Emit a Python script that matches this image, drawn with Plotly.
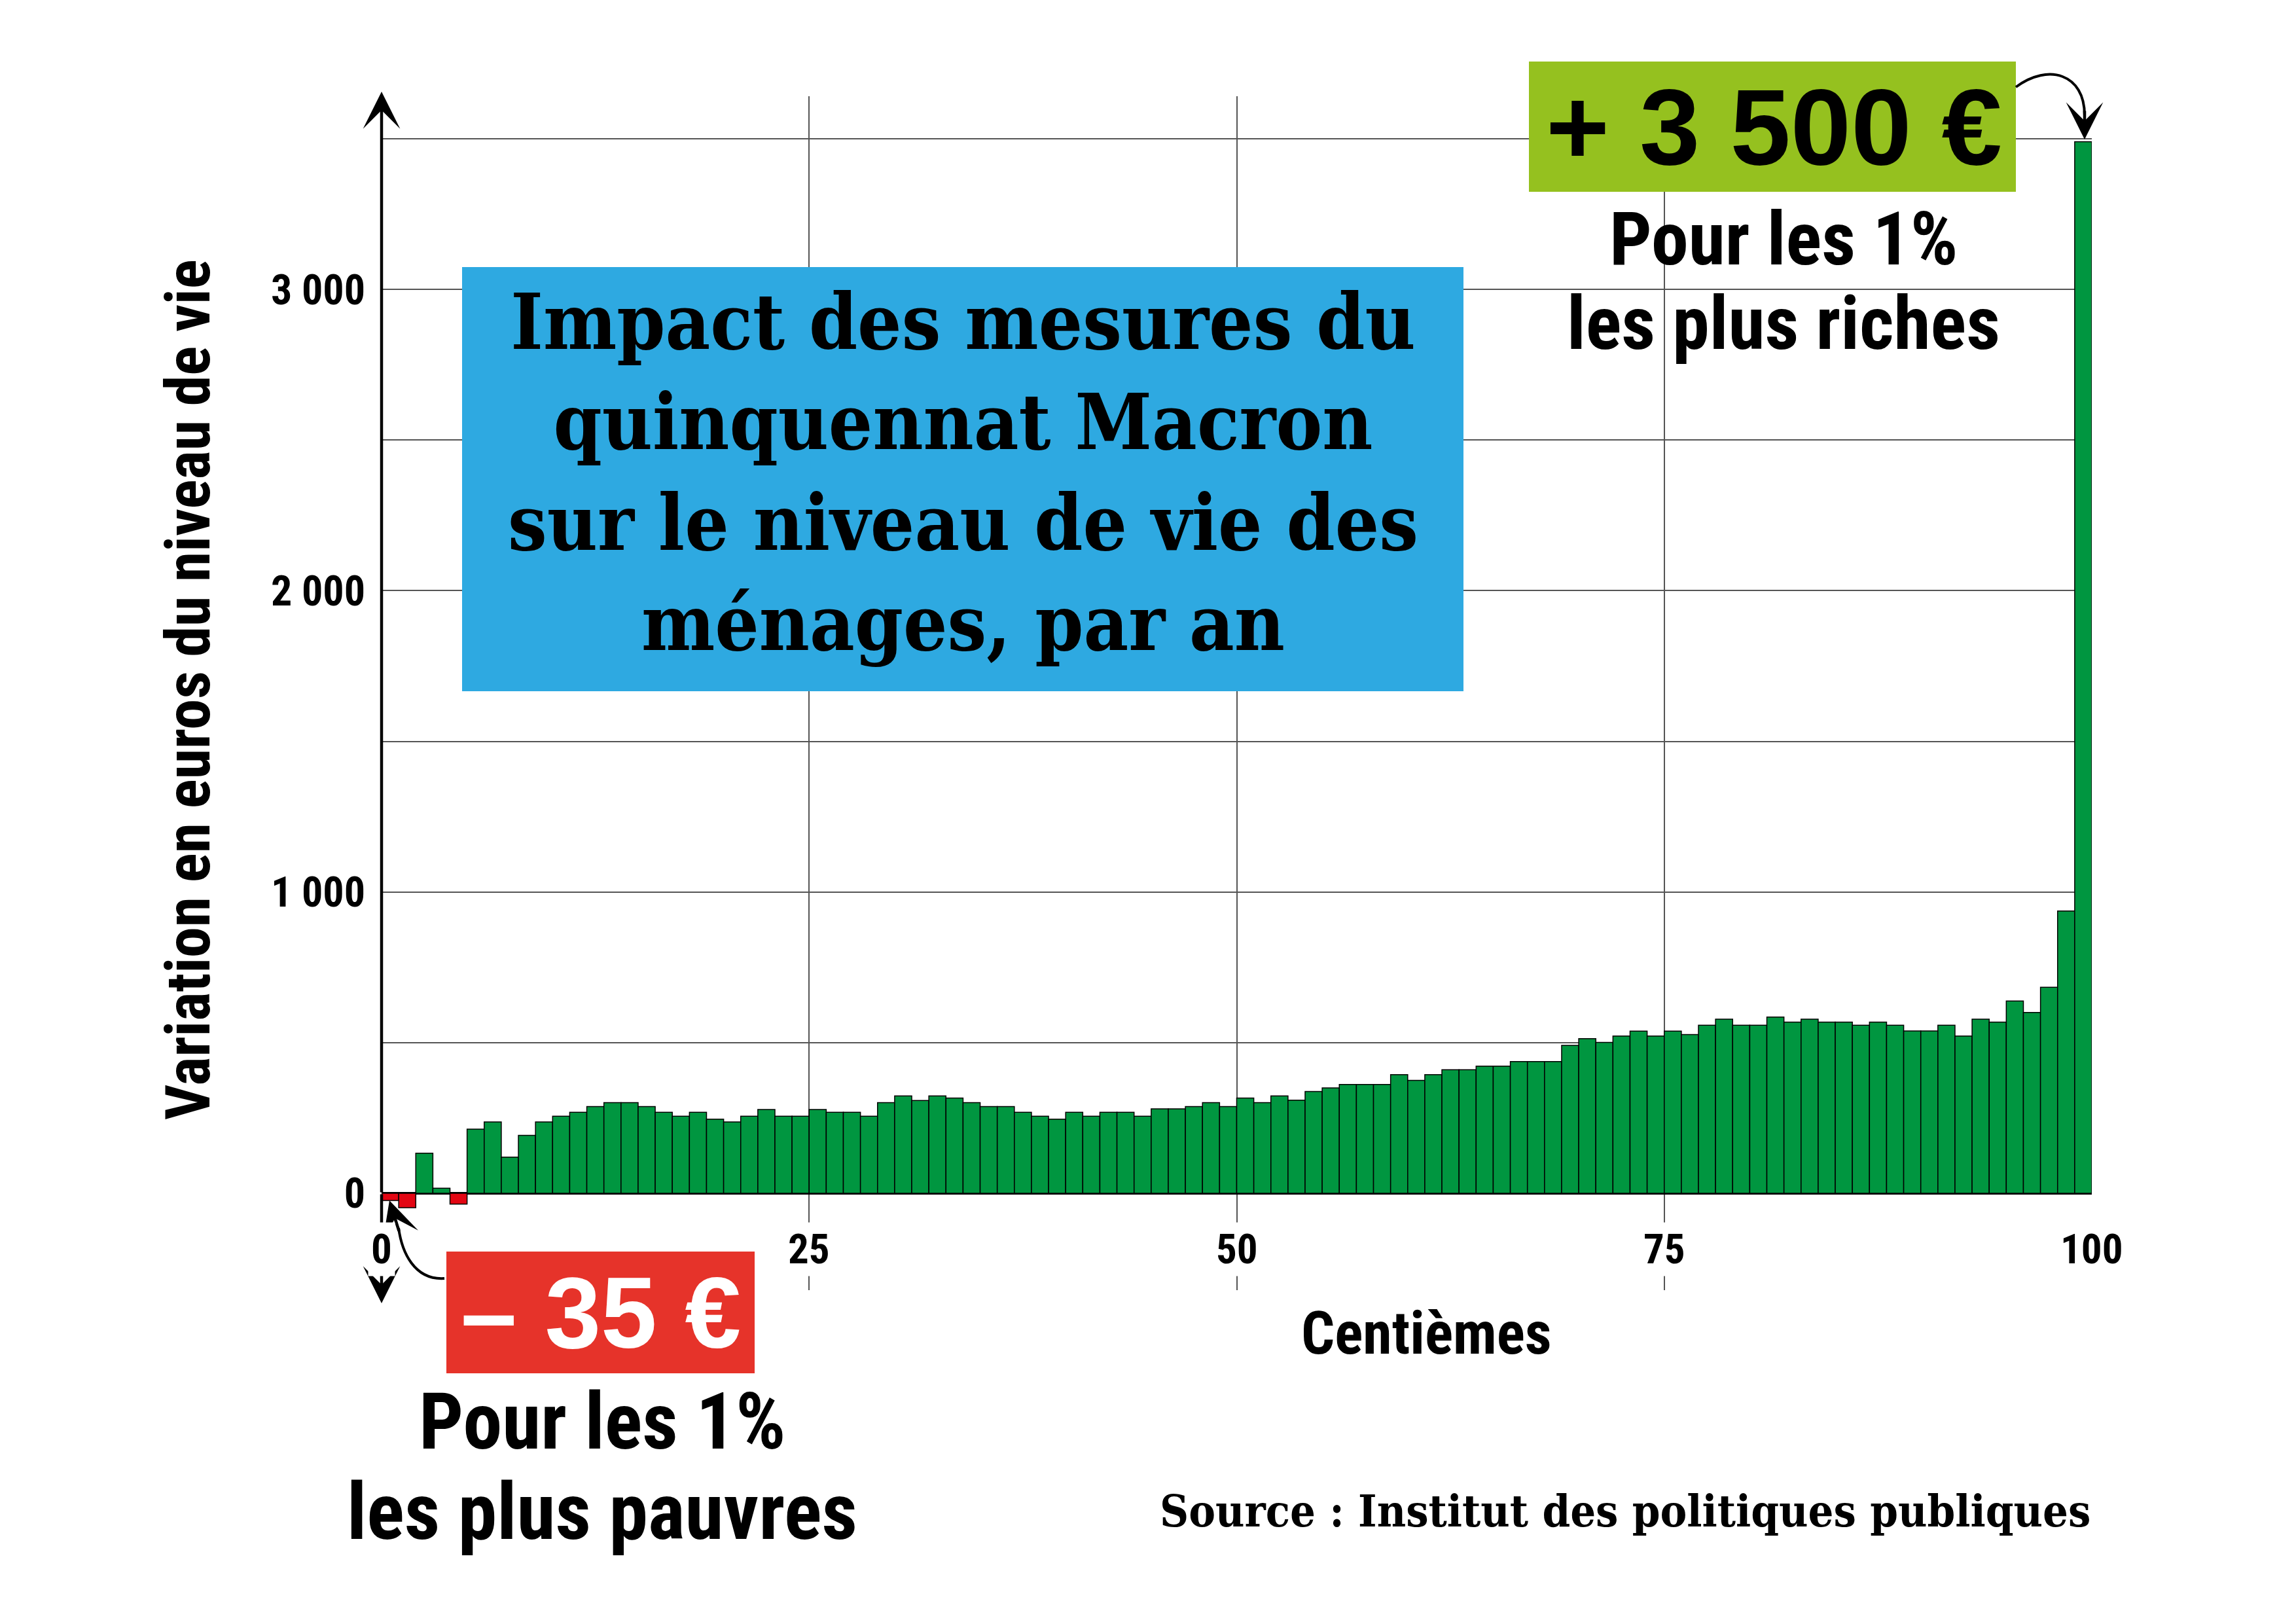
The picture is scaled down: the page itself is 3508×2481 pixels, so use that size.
import plotly.graph_objects as go

# centiles de niveau de vie (1 = les plus pauvres, 100 = les plus riches)
centiles = list(range(1, 101))
variation = [
    -24, -48, 133, 17, -36, 213, 237, 120, 192, 237,
    256, 269, 288, 301, 301, 288, 269, 256, 269, 246,
    237, 256, 278, 256, 256, 278, 269, 269, 256, 301,
    323, 308, 323, 316, 301, 288, 288, 269, 256, 246,
    269, 256, 269, 269, 256, 280, 280, 288, 301, 288,
    316, 301, 323, 309, 338, 350, 361, 361, 361, 394,
    375, 394, 410, 410, 422, 422, 437, 437, 437, 491,
    513, 501, 522, 538, 522, 538, 527, 558, 578, 558,
    558, 585, 568, 578, 568, 568, 558, 568, 558, 539,
    539, 558, 522, 578, 568, 638, 600, 684, 937, 3490,
]

y_ticks = [0, 500, 1000, 1500, 2000, 2500, 3000, 3500]
y_labels = ["0", "", "1 000", "", "2 000", "", "3 000", ""]
x_ticks = [0, 25, 50, 75, 100]
x_labels = ["0", "25", "50", "75", "100"]

title_lines = "Impact des mesures du<br>quinquennat Macron<br>sur le niveau de vie des<br>ménages, par an"
top_value = "+ 3 500 €"
bottom_value = "– 35 €"
top_caption = ["Pour les 1%", "les plus riches"]
bottom_caption = ["Pour les 1%", "les plus pauvres"]

GREEN = "#009640"
RED = "#e30613"
NARROW = "Roboto Condensed, DejaVu Sans Condensed, sans-serif"
HEAVY = "Liberation Sans, Arial, sans-serif"
SLAB = "DejaVu Serif Condensed, DejaVu Serif, serif"

W, H = 3508, 2481
L, R, T, B = 575, 3188, 139, 1963   # plot area in pixels
Y0_PX, PX_PER_UNIT = 1815, 0.4603


def px(x):
    return (x - L) / (R - L)


def py(y):
    return (B - y) / (B - T)


fig = go.Figure()

fig.add_trace(go.Bar(
    x=[c - 0.5 for c in centiles],
    y=variation,
    width=1,
    marker=dict(color=[RED if v < 0 else GREEN for v in variation],
                line=dict(color="black", width=1.5)),
    hoverinfo="x+y",
))

# boxes
boxes = [
    (698, 400, 2228, 1048, "#2ea9e1"),
    (2328, 86, 3072, 285, "#95c11f"),
    (674, 1904, 1145, 2090, "#e6332a"),
]
for x0, y0, x1, y1, col in boxes:
    fig.add_shape(type="rect", xref="paper", yref="paper",
                  x0=px(x0), x1=px(x1), y0=py(y1), y1=py(y0),
                  fillcolor=col, line=dict(width=0), layer="above")


def curve(pts):
    (a, b), (c, d), (e, f), (g, h) = pts
    return (f"M {px(a)},{py(b)} C {px(c)},{py(d)} {px(e)},{py(f)} {px(g)},{py(h)}")


fig.add_shape(type="path", xref="paper", yref="paper",
              path=curve([(3072, 125), (3122, 88), (3177, 105), (3177, 168)]),
              line=dict(color="black", width=4))
fig.add_shape(type="path", xref="paper", yref="paper",
              path=curve([(671, 1945), (625, 1948), (606, 1905), (601, 1868)]),
              line=dict(color="black", width=4))

arrow = dict(text="", showarrow=True, arrowhead=3, arrowsize=2.1, arrowwidth=4.5,
             arrowcolor="black", xref="paper", yref="paper", axref="pixel", ayref="pixel")
annotations = [
    dict(x=0, y=py(132), ax=0, ay=Y0_PX - 132, **arrow),
    dict(x=0, y=py(1983), ax=0, ay=Y0_PX - 1983, **arrow),
    dict(x=px(3177), y=py(205), ax=0, ay=-45, **arrow),
    dict(x=px(587), y=py(1826), ax=15, ay=48, **arrow),
]

for v, lab in zip(x_ticks, x_labels):
    annotations.append(dict(x=v, xref="x", y=py(1900), yref="paper", text=lab, showarrow=False,
                            xanchor="center", yanchor="middle", bgcolor="white", borderpad=4,
                            font=dict(family=NARROW, size=63, color="black", weight="bold")))


def label(xp, yp, text, family, size, color="black", xanchor="center", **kw):
    return dict(x=px(xp), y=py(yp), xref="paper", yref="paper", text=text, showarrow=False,
                xanchor=xanchor, yanchor="middle",
                font=dict(family=family, size=size, color=color, weight="bold"), **kw)


annotations += [
    label(1463, 714, title_lines, SLAB, 118),
    label(2702, 186, top_value, HEAVY, 166),
    label(910, 1998, bottom_value, HEAVY, 154, color="white"),
    label(2717, 357, top_caption[0], NARROW, 114),
    label(2717, 486, top_caption[1], NARROW, 114),
    label(912, 2164, bottom_caption[0], NARROW, 120),
    label(912, 2302, bottom_caption[1], NARROW, 120),
    label(2171, 2030, "Centièmes", NARROW, 90),
    label(280, 1046, "Variation en euros du niveau de vie", NARROW, 94, textangle=-90),
    label(3188, 2300, "Source : Institut des politiques publiques", SLAB, 68, xanchor="right"),
]

fig.update_layout(
    width=W, height=H, autosize=False,
    margin=dict(l=L, r=W - R, t=T, b=H - B),
    paper_bgcolor="white", plot_bgcolor="white",
    showlegend=False,
    annotations=annotations,
    xaxis=dict(range=[0, 100], tickvals=x_ticks, showticklabels=False,
               showgrid=True, gridcolor="#555555", gridwidth=2, zeroline=False, showline=False),
    yaxis=dict(range=[-(B - Y0_PX) / PX_PER_UNIT, (Y0_PX - T) / PX_PER_UNIT],
               tickvals=y_ticks, ticktext=y_labels, ticklabelstandoff=24,
               tickfont=dict(family=NARROW, size=64, color="black", weight="bold"),
               showgrid=True, gridcolor="#555555", gridwidth=2,
               zeroline=True, zerolinecolor="black", zerolinewidth=4, showline=False),
)

fig.write_html("out.html")
